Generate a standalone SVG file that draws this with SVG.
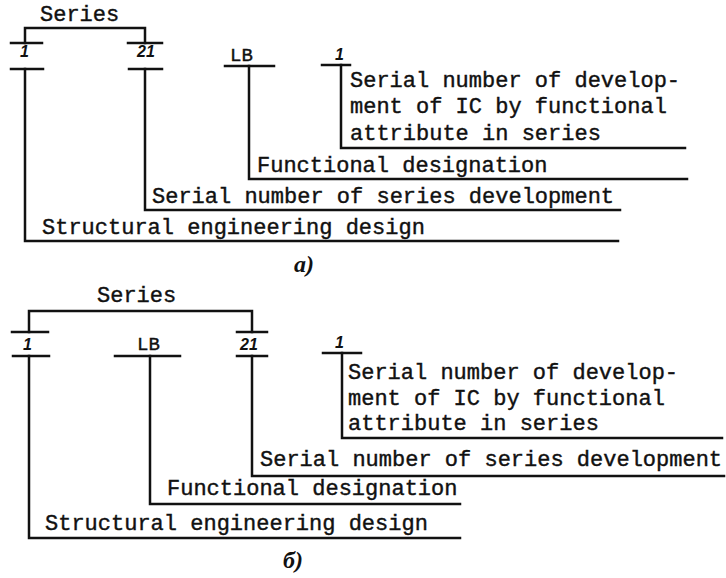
<svg xmlns="http://www.w3.org/2000/svg" width="726" height="578" viewBox="0 0 726 578">
<style>
.t{font-family:"Liberation Mono","DejaVu Sans Mono",monospace;font-size:22px;fill:#111;stroke:#111;stroke-width:0.4}
.lb{font-family:"Liberation Mono","DejaVu Sans Mono",monospace;font-size:19px;fill:#111;stroke:#111;stroke-width:0.4}
.d{font-family:"Liberation Sans",Arial,sans-serif;font-size:16px;font-weight:bold;font-style:italic;fill:#111}
.cap{font-family:"Liberation Serif","Times New Roman",serif;font-size:24px;font-weight:bold;font-style:italic;fill:#111}
.ln{stroke:#111;stroke-width:2.5;fill:none;stroke-linecap:square}
</style>
<rect width="726" height="578" fill="#fff"/>

<!-- Diagram a) -->
<g id="a-series"><text class="t" x="40" y="21">Series</text></g>
<g id="a-pos1" class="ln"><line x1="11" y1="43" x2="42" y2="43"/><line x1="11" y1="69" x2="43" y2="69"/></g>
<g id="a-pos1-label"><text class="d" x="20" y="57">1</text></g>
<g id="a-pos21" class="ln"><line x1="128" y1="43" x2="162" y2="43"/><line x1="129" y1="69" x2="162" y2="69"/></g>
<g id="a-pos21-label"><text class="d" x="137" y="57">21</text></g>
<g id="a-posLB"><text class="lb" x="230" y="61">LB</text><line class="ln" x1="225" y1="66" x2="274" y2="66"/></g>
<g id="a-pos1b"><text class="d" x="335" y="60">1</text><line class="ln" x1="322" y1="65" x2="350" y2="65"/></g>
<g id="a-serialdev"><text class="t" x="350" y="87">Serial number of develop-</text><text class="t" x="350" y="113">ment of IC by functional</text><text class="t" x="350" y="140">attribute in series</text></g>
<g id="a-functional"><text class="t" x="257" y="172">Functional designation</text></g>
<g id="a-serieslabel"><text class="t" x="152" y="203">Serial number of series development</text></g>
<g id="a-structural"><text class="t" x="42" y="234">Structural engineering design</text></g>
<g id="a-caption"><text class="cap" x="294" y="272">a)</text></g>

<!-- Diagram b) -->
<g id="b-series"><text class="t" x="97" y="302">Series</text></g>
<g id="b-pos1" class="ln"><line x1="12" y1="332" x2="48" y2="332"/><line x1="13" y1="356" x2="49" y2="356"/></g>
<g id="b-pos1-label"><text class="d" x="23" y="350">1</text></g>
<g id="b-posLB"><text class="lb" x="137" y="350">LB</text><line class="ln" x1="115" y1="356" x2="180" y2="356"/></g>
<g id="b-pos21" class="ln"><line x1="237" y1="332" x2="267" y2="332"/><line x1="237" y1="356" x2="267" y2="356"/></g>
<g id="b-pos21-label"><text class="d" x="240" y="350">21</text></g>
<g id="b-pos1b"><text class="d" x="335" y="348">1</text><line class="ln" x1="323" y1="353" x2="361" y2="353"/></g>
<g id="b-serialdev"><text class="t" x="348" y="379">Serial number of develop-</text><text class="t" x="348" y="405">ment of IC by functional</text><text class="t" x="348" y="430">attribute in series</text></g>
<g id="b-serieslabel"><text class="t" x="260" y="466">Serial number of series development</text></g>
<g id="b-functional"><text class="t" x="167" y="495">Functional designation</text></g>
<g id="b-structural"><text class="t" x="45" y="530">Structural engineering design</text></g>
<g id="b-caption"><text class="cap" x="283" y="568">б)</text></g>

<g id="connectors" class="ln">
  <!-- a) series bracket -->
  <polyline points="25,43 25,28 145,28 145,43"/>
  <!-- a) leaders -->
  <polyline points="25,69 25,241 618,241"/>
  <polyline points="145,69 145,210 620,210"/>
  <polyline points="249,66 249,179 687,179"/>
  <polyline points="341,65 341,148 685,148"/>
  <!-- b) series bracket -->
  <polyline points="29,332 29,311 252,311 252,332"/>
  <!-- b) leaders -->
  <polyline points="29,356 29,538 460,538"/>
  <polyline points="150,356 150,504 460,504"/>
  <polyline points="252,356 252,476 724,476"/>
  <polyline points="342,353 342,438 722,438"/>
</g>
</svg>
